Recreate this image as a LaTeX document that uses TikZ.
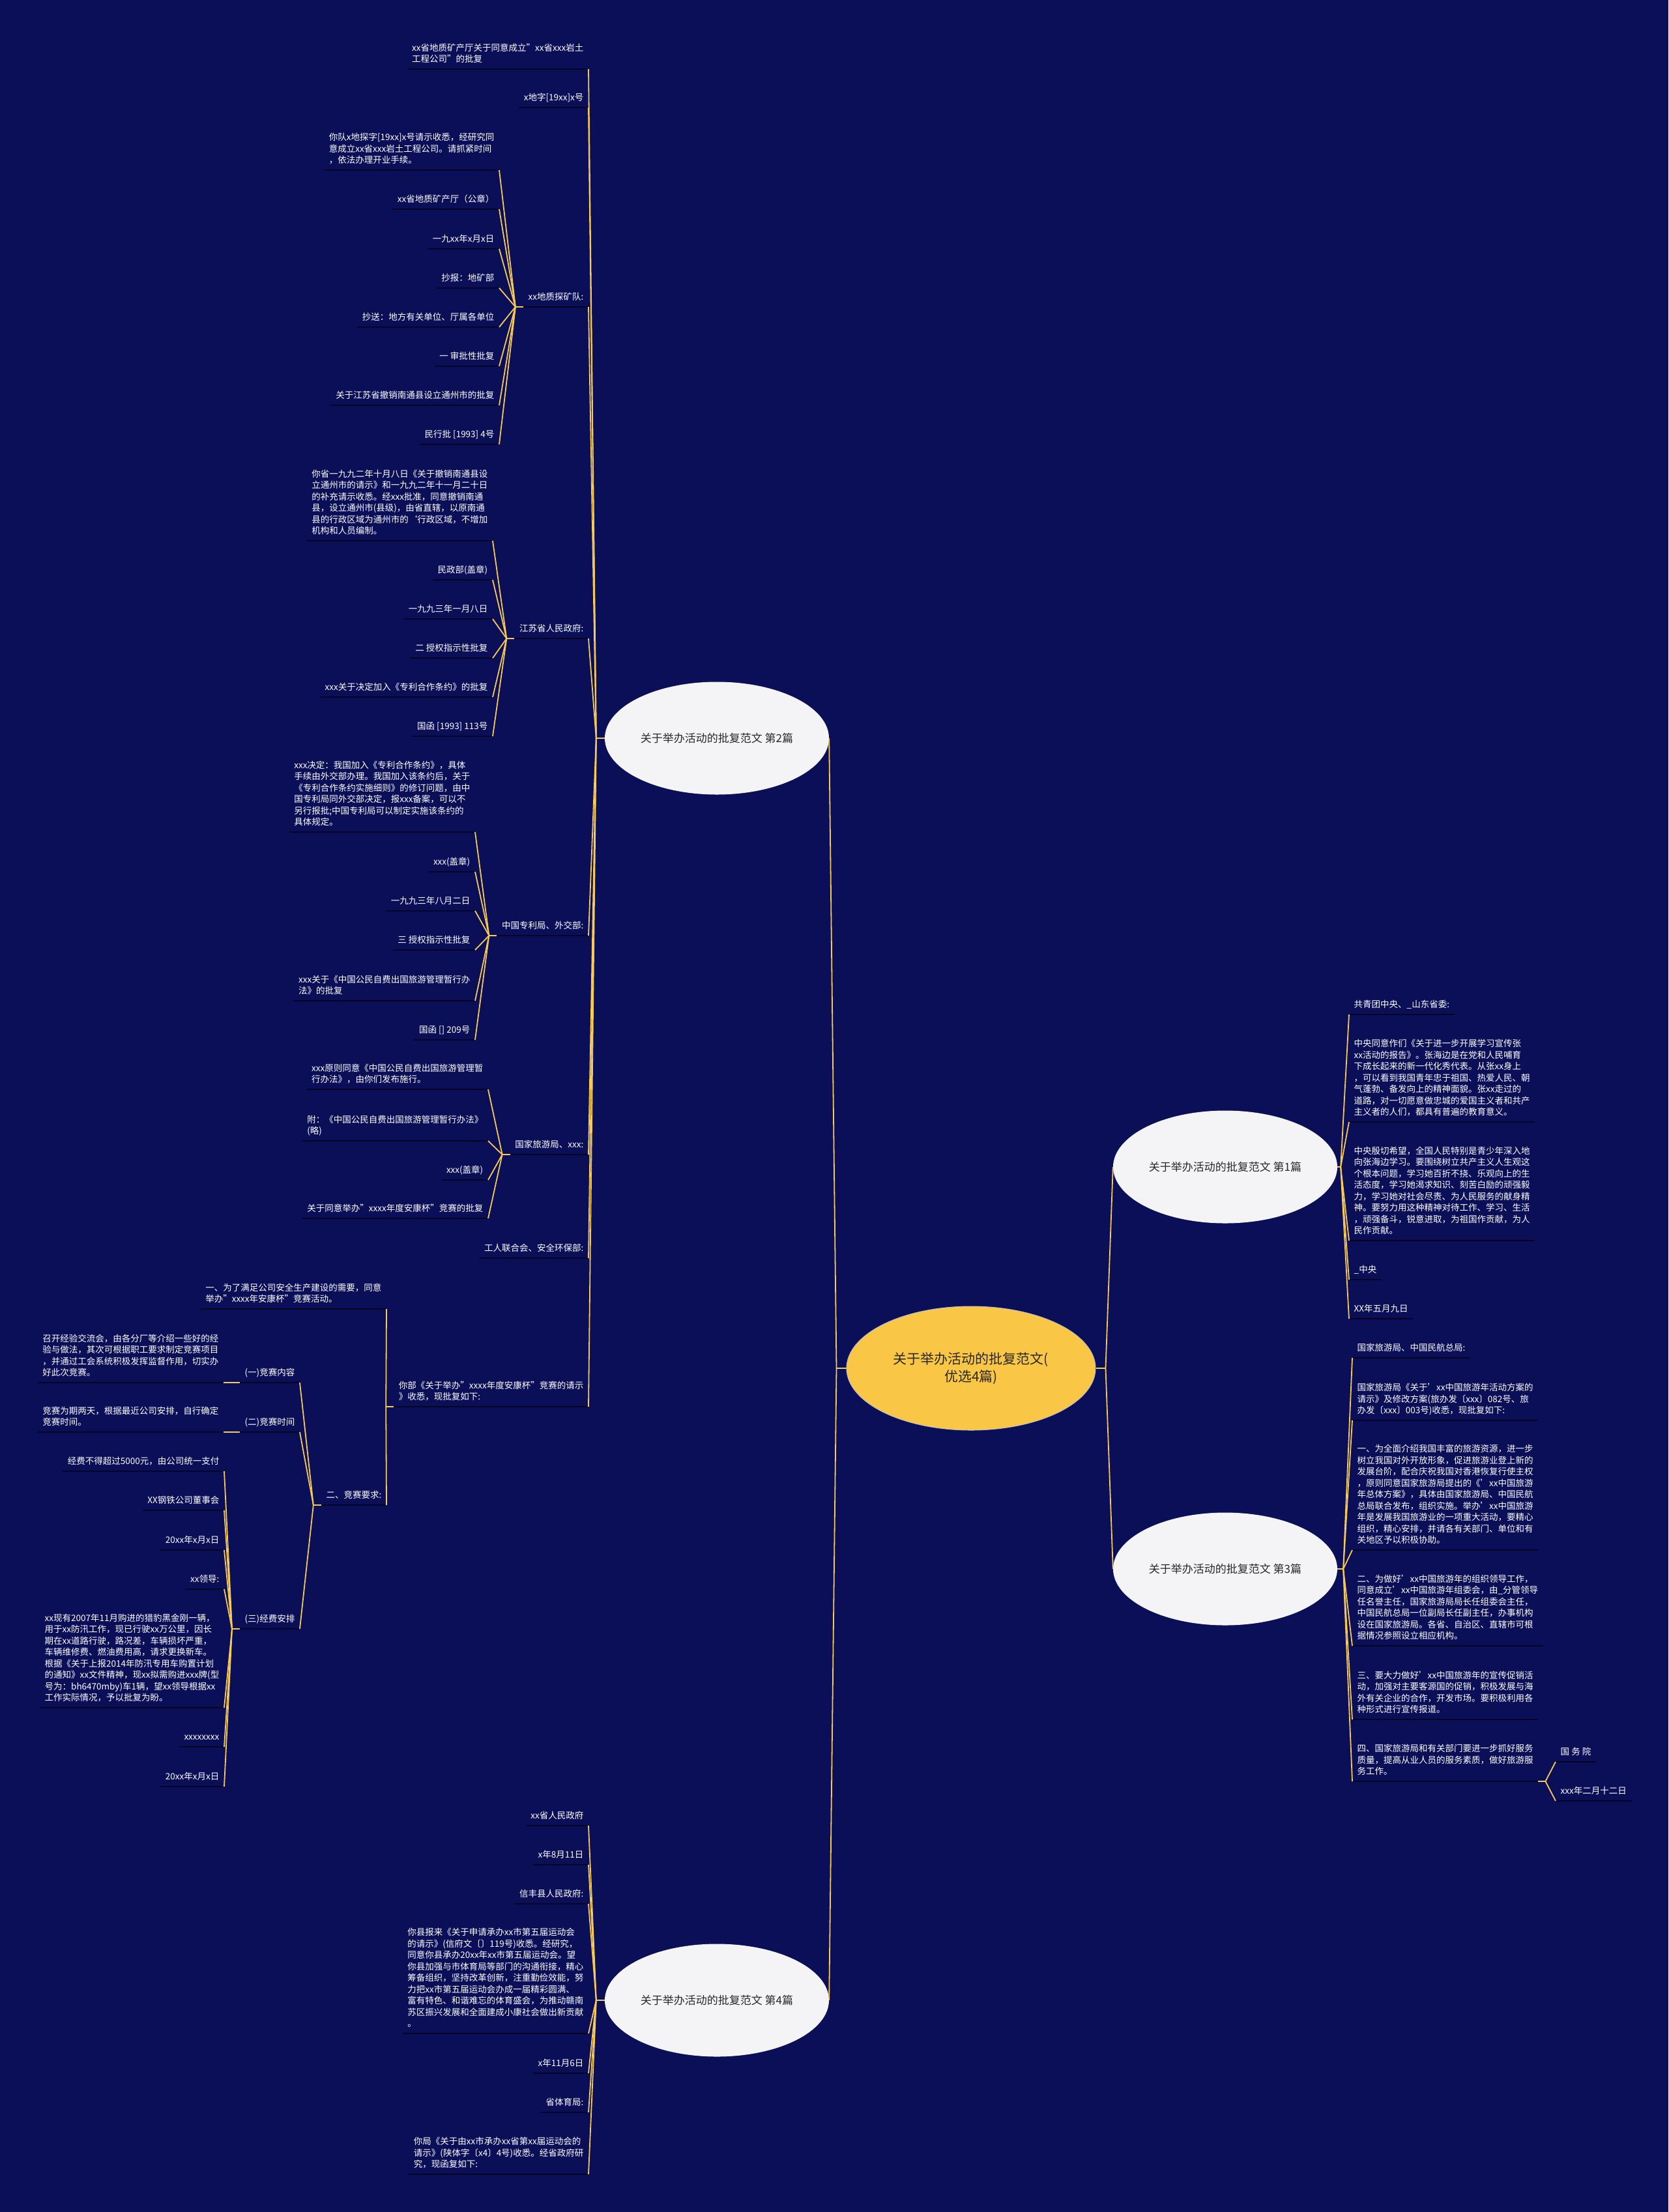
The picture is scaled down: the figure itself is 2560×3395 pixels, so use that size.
\documentclass[tikz,border=0pt]{standalone}
\usepackage{fontspec}
\setmainfont{Noto Sans CJK SC}
\usetikzlibrary{shapes.geometric, positioning}
\definecolor{bgblue}{RGB}{10,15,88}
\definecolor{gold}{RGB}{246,202,84}
\definecolor{ulcol}{RGB}{4,6,34}
\definecolor{rootfill}{RGB}{250,198,70}
\definecolor{subfill}{RGB}{244,244,246}
\definecolor{darktext}{RGB}{40,40,40}
\tikzstyle{uline} = [draw=ulcol, line width=2.5pt]
\tikzstyle{leaf} = [font=\fontsize{13.5}{17.5}\selectfont, text=white, align=left, inner xsep=7.5pt, inner ysep=8pt, text depth=2pt,
  append after command={(\tikzlastnode.south west) edge[uline] (\tikzlastnode.south east)}]
\tikzstyle{leafL} = [leaf, anchor=south east]
\tikzstyle{leafR} = [leaf, anchor=south west]
\tikzstyle{link} = [draw=gold, line width=1.8pt]
\tikzstyle{topic} = [ellipse, fill=subfill, text=darktext, minimum width=344pt, minimum height=173pt, font=\fontsize{17}{22}\selectfont]
\tikzstyle{root} = [ellipse, draw=gray!50, line width=1pt, fill=rootfill, text=darktext, minimum width=382pt, minimum height=190pt, align=center, font=\fontsize{21}{27}\selectfont]

\begin{document}
\begin{tikzpicture}[x=1pt, y=-1pt]
        \fill[bgblue] (0,0) rectangle (2560,3395);
        \useasboundingbox (0,0) rectangle (2560,3395);

        % Centro y ramas
        \node [root] (main) at (1490,2100) {关于举办活动的批复范文(\\优选4篇)};
        \node [topic] (p2) at (1100,1133) {关于举办活动的批复范文 第2篇};
        \node [topic] (p4) at (1100,3070) {关于举办活动的批复范文 第4篇};
        \node [topic] (p1) at (1880,1791) {关于举办活动的批复范文 第1篇};
        \node [topic] (p3) at (1880,2408) {关于举办活动的批复范文 第3篇};

        % Rama 2
        \node [leafL] (a) at (903,106) {xx省地质矿产厅关于同意成立"xx省xxx岩土\\工程公司"的批复};
        \node [leafL] (b) at (903,165) {x地字[19xx]x号};
        \node [leafL] (c) at (903,471) {xx地质探矿队:};
        \node [leafL] (c1) at (766,261) {你队x地探字[19xx]x号请示收悉，经研究同\\意成立xx省xxx岩土工程公司。请抓紧时间\\，依法办理开业手续。};
        \node [leafL] (c2) at (766,321) {xx省地质矿产厅（公章）};
        \node [leafL] (c3) at (766,382) {一九xx年x月x日};
        \node [leafL] (c4) at (766,442) {抄报：地矿部};
        \node [leafL] (c5) at (766,502) {抄送：地方有关单位、厅属各单位};
        \node [leafL] (c6) at (766,562) {一 审批性批复};
        \node [leafL] (c7) at (766,622) {关于江苏省撤销南通县设立通州市的批复};
        \node [leafL] (c8) at (766,682) {民行批 [1993] 4号};
        \node [leafL] (d) at (903,980) {江苏省人民政府:};
        \node [leafL] (d1) at (756,830) {你省一九九二年十月八日《关于撤销南通县设\\立通州市的请示》和一九九二年十一月二十日\\的补充请示收悉。经xxx批准，同意撤销南通\\县，设立通州市(县级)，由省直辖，以原南通\\县的行政区域为通州市的`行政区域，不增加\\机构和人员编制。};
        \node [leafL] (d2) at (756,890) {民政部(盖章)};
        \node [leafL] (d3) at (756,950) {一九九三年一月八日};
        \node [leafL] (d4) at (756,1010) {二 授权指示性批复};
        \node [leafL] (d5) at (756,1070) {xxx关于决定加入《专利合作条约》的批复};
        \node [leafL] (d6) at (756,1130) {国函 [1993] 113号};
        \node [leafL] (e) at (903,1436) {中国专利局、外交部:};
        \node [leafL] (e1) at (729,1277) {xxx决定：我国加入《专利合作条约》，具体\\手续由外交部办理。我国加入该条约后，关于\\《专利合作条约实施细则》的修订问题，由中\\国专利局同外交部决定，报xxx备案，可以不\\另行报批;中国专利局可以制定实施该条约的\\具体规定。};
        \node [leafL] (e2) at (729,1338) {xxx(盖章)};
        \node [leafL] (e3) at (729,1398) {一九九三年八月二日};
        \node [leafL] (e4) at (729,1458) {三 授权指示性批复};
        \node [leafL] (e5) at (729,1536) {xxx关于《中国公民自费出国旅游管理暂行办\\法》的批复};
        \node [leafL] (e6) at (729,1596) {国函 [] 209号};
        \node [leafL] (f) at (903,1772) {国家旅游局、xxx:};
        \node [leafL] (f1) at (749,1672) {xxx原则同意《中国公民自费出国旅游管理暂\\行办法》，由你们发布施行。};
        \node [leafL] (f2) at (749,1751) {附：《中国公民自费出国旅游管理暂行办法》\\(略)};
        \node [leafL] (f3) at (749,1811) {xxx(盖章)};
        \node [leafL] (f4) at (749,1870) {关于同意举办"xxxx年度安康杯"竞赛的批复};
        \node [leafL] (g) at (903,1931) {工人联合会、安全环保部:};
        \node [leafL] (h) at (903,2159) {你部《关于举办"xxxx年度安康杯"竞赛的请示\\》收悉，现批复如下:};
        \node [leafL] (h1) at (593,2009) {一、为了满足公司安全生产建设的需要，同意\\举办"xxxx年安康杯"竞赛活动。};
        \node [leafL] (h2) at (593,2310) {二、竞赛要求:};
        \node [leafL] (h21) at (460,2122) {(一)竞赛内容};
        \node [leafL] (h211) at (343,2122) {召开经验交流会，由各分厂等介绍一些好的经\\验与做法，其次可根据职工要求制定竞赛项目\\，并通过工会系统积极发挥监督作用，切实办\\好此次竞赛。};
        \node [leafL] (h22) at (460,2198) {(二)竞赛时间};
        \node [leafL] (h221) at (343,2198) {竞赛为期两天，根据最近公司安排，自行确定\\竞赛时间。};
        \node [leafL] (h23) at (460,2500) {(三)经费安排};
        \node [leafL] (h231) at (344,2258) {经费不得超过5000元，由公司统一支付};
        \node [leafL] (h232) at (344,2318) {XX钢铁公司董事会};
        \node [leafL] (h233) at (344,2379) {20xx年x月x日};
        \node [leafL] (h234) at (344,2439) {xx领导:};
        \node [leafL] (h235) at (344,2621) {xx现有2007年11月购进的猎豹黑金刚一辆，\\用于xx防汛工作，现已行驶xx万公里，因长\\期在xx道路行驶，路况差，车辆损坏严重，\\车辆维修费、燃油费用高，请求更换新车。\\根据《关于上报2014年防汛专用车购置计划\\的通知》xx文件精神，现xx拟需购进xxx牌(型\\号为：bh6470mby)车1辆，望xx领导根据xx\\工作实际情况，予以批复为盼。};
        \node [leafL] (h236) at (344,2681) {xxxxxxxx};
        \node [leafL] (h237) at (344,2742) {20xx年x月x日};

        % Rama 4
        \node [leafL] (k1) at (903,2802) {xx省人民政府};
        \node [leafL] (k2) at (903,2862) {x年8月11日};
        \node [leafL] (k3) at (903,2922) {信丰县人民政府:};
        \node [leafL] (k4) at (903,3121) {你县报来《关于申请承办xx市第五届运动会\\的请示》(信府文〔〕119号)收悉。经研究，\\同意你县承办20xx年xx市第五届运动会。望\\你县加强与市体育局等部门的沟通衔接，精心\\筹备组织，坚持改革创新，注重勤俭效能，努\\力把xx市第五届运动会办成一届精彩圆满、\\富有特色、和谐难忘的体育盛会，为推动赣南\\苏区振兴发展和全面建成小康社会做出新贡献\\。};
        \node [leafL] (k5) at (903,3182) {x年11月6日};
        \node [leafL] (k6) at (903,3242) {省体育局:};
        \node [leafL] (k7) at (903,3337) {你局《关于由xx市承办xx省第xx届运动会的\\请示》(陕体字〔x4〕4号)收悉。经省政府研\\究，现函复如下:};

        % Rama 1
        \node [leafR] (r1) at (2070,1557) {共青团中央、\_山东省委:};
        \node [leafR] (r2) at (2070,1722) {中央同意作们《关于进一步开展学习宣传张\\xx活动的报告》。张海边是在党和人民哺育\\下成长起来的新一代化秀代表。从张xx身上\\，可以看到我国青年忠于祖国、热爱人民、朝\\气蓬勃、备发向上的精神面貌。张xx走过的\\道路，对一切愿意做忠城的爱国主义者和共产\\主义者的人们，都具有普遍的教育意义。};
        \node [leafR] (r3) at (2070,1904) {中央殷切希望，全国人民特别是青少年深入地\\向张海边学习。要围绕树立共产主义人生观这\\个根本问题，学习她百折不挠、乐观向上的生\\活态度，学习她渴求知识、刻苦白励的顽强毅\\力，学习她对社会尽责、为人民服务的献身精\\神。要努力用这种精神对待工作、学习、生活\\，顽强备斗，锐意进取，为祖国作贡献，为人\\民作贡献。};
        \node [leafR] (r4) at (2070,1964) {\_中央};
        \node [leafR] (r5) at (2070,2024) {XX年五月九日};

        % Rama 3
        \node [leafR] (s1) at (2075,2084) {国家旅游局、中国民航总局:};
        \node [leafR] (s2) at (2075,2180) {国家旅游局《关于'xx中国旅游年活动方案的\\请示》及修改方案(旅办发〔xxx〕082号、旅\\办发〔xxx〕003号)收悉，现批复如下:};
        \node [leafR] (s3) at (2075,2379) {一、为全面介绍我国丰富的旅游资源，进一步\\树立我国对外开放形象，促进旅游业登上新的\\发展台阶，配合庆祝我国对香港恢复行使主权\\，原则同意国家旅游局提出的《'xx中国旅游\\年总体方案》，具体由国家旅游局、中国民航\\总局联合发布，组织实施。举办'xx中国旅游\\年是发展我国旅游业的一项重大活动，要精心\\组织，精心安排，并请各有关部门、单位和有\\关地区予以积极协助。};
        \node [leafR] (s4) at (2075,2526) {二、为做好'xx中国旅游年的组织领导工作，\\同意成立'xx中国旅游年组委会，由\_分管领导\\任名誉主任，国家旅游局局长任组委会主任，\\中国民航总局一位副局长任副主任，办事机构\\设在国家旅游局。各省、自治区、直辖市可根\\据情况参照设立相应机构。};
        \node [leafR] (s5) at (2075,2639) {三、要大力做好'xx中国旅游年的宣传促销活\\动，加强对主要客源国的促销，积极发展与海\\外有关企业的合作，开发市场。要积极利用各\\种形式进行宣传报道。};
        \node [leafR] (s6) at (2075,2734) {四、国家旅游局和有关部门要进一步抓好服务\\质量，提高从业人员的服务素质，做好旅游服\\务工作。};
        \node [leafR] (s61) at (2387,2704) {国 务 院};
        \node [leafR] (s62) at (2387,2764) {xxx年二月十二日};

        % Lineas
        \path (main.west) ++(-15,0) coordinate (jl);
        \path (main.east) ++(15,0) coordinate (jr);
        \draw [link] (main.west) -- (jl);
        \draw [link] (main.east) -- (jr);
        \foreach \n in {p2,p4} \draw [link] (jl) -- (\n.east);
        \foreach \n in {p1,p3} \draw [link] (jr) -- (\n.west);

        \path (p2.west) ++(-13,0) coordinate (j2);
        \draw [link] (p2.west) -- (j2);
        \foreach \n in {a,b,c,d,e,f,g,h} \draw [link] (j2) -- (\n.south east);
        \path (p4.west) ++(-13,0) coordinate (j4);
        \draw [link] (p4.west) -- (j4);
        \foreach \n in {k1,k2,k3,k4,k5,k6,k7} \draw [link] (j4) -- (\n.south east);
        \path (p1.east) ++(5,0) coordinate (j1);
        \draw [link] (p1.east) -- (j1);
        \foreach \n in {r1,r2,r3,r4,r5} \draw [link] (j1) -- (\n.south west);
        \path (p3.east) ++(9,0) coordinate (j3);
        \draw [link] (p3.east) -- (j3);
        \foreach \n in {s1,s2,s3,s4,s5,s6} \draw [link] (j3) -- (\n.south west);

        \path (s6.south east) ++(11,0) coordinate (js6);
        \draw [link] (s6.south east) -- (js6);
        \foreach \n in {s61,s62} \draw [link] (js6) -- (\n.south west);

        \path (c.south west) ++(-12,0) coordinate (jc);
        \draw [link] (c.south west) -- (jc);
        \foreach \n in {c1,c2,c3,c4,c5,c6,c7,c8} \draw [link] (jc) -- (\n.south east);
        \path (d.south west) ++(-12,0) coordinate (jd);
        \draw [link] (d.south west) -- (jd);
        \foreach \n in {d1,d2,d3,d4,d5,d6} \draw [link] (jd) -- (\n.south east);
        \path (e.south west) ++(-12,0) coordinate (je);
        \draw [link] (e.south west) -- (je);
        \foreach \n in {e1,e2,e3,e4,e5,e6} \draw [link] (je) -- (\n.south east);
        \path (f.south west) ++(-12,0) coordinate (jf);
        \draw [link] (f.south west) -- (jf);
        \foreach \n in {f1,f2,f3,f4} \draw [link] (jf) -- (\n.south east);
        \path (h.south west) ++(-12,0) coordinate (jh);
        \draw [link] (h.south west) -- (jh);
        \foreach \n in {h1,h2} \draw [link] (jh) -- (\n.south east);
        \path (h2.south west) ++(-12,0) coordinate (jh2);
        \draw [link] (h2.south west) -- (jh2);
        \foreach \n in {h21,h22,h23} \draw [link] (jh2) -- (\n.south east);
        \draw [link] (h21.south west) -- (h211.south east);
        \draw [link] (h22.south west) -- (h221.south east);
        \path (h23.south west) ++(-12,0) coordinate (jh23);
        \draw [link] (h23.south west) -- (jh23);
        \foreach \n in {h231,h232,h233,h234,h235,h236,h237} \draw [link] (jh23) -- (\n.south east);
\end{tikzpicture}
\end{document}
